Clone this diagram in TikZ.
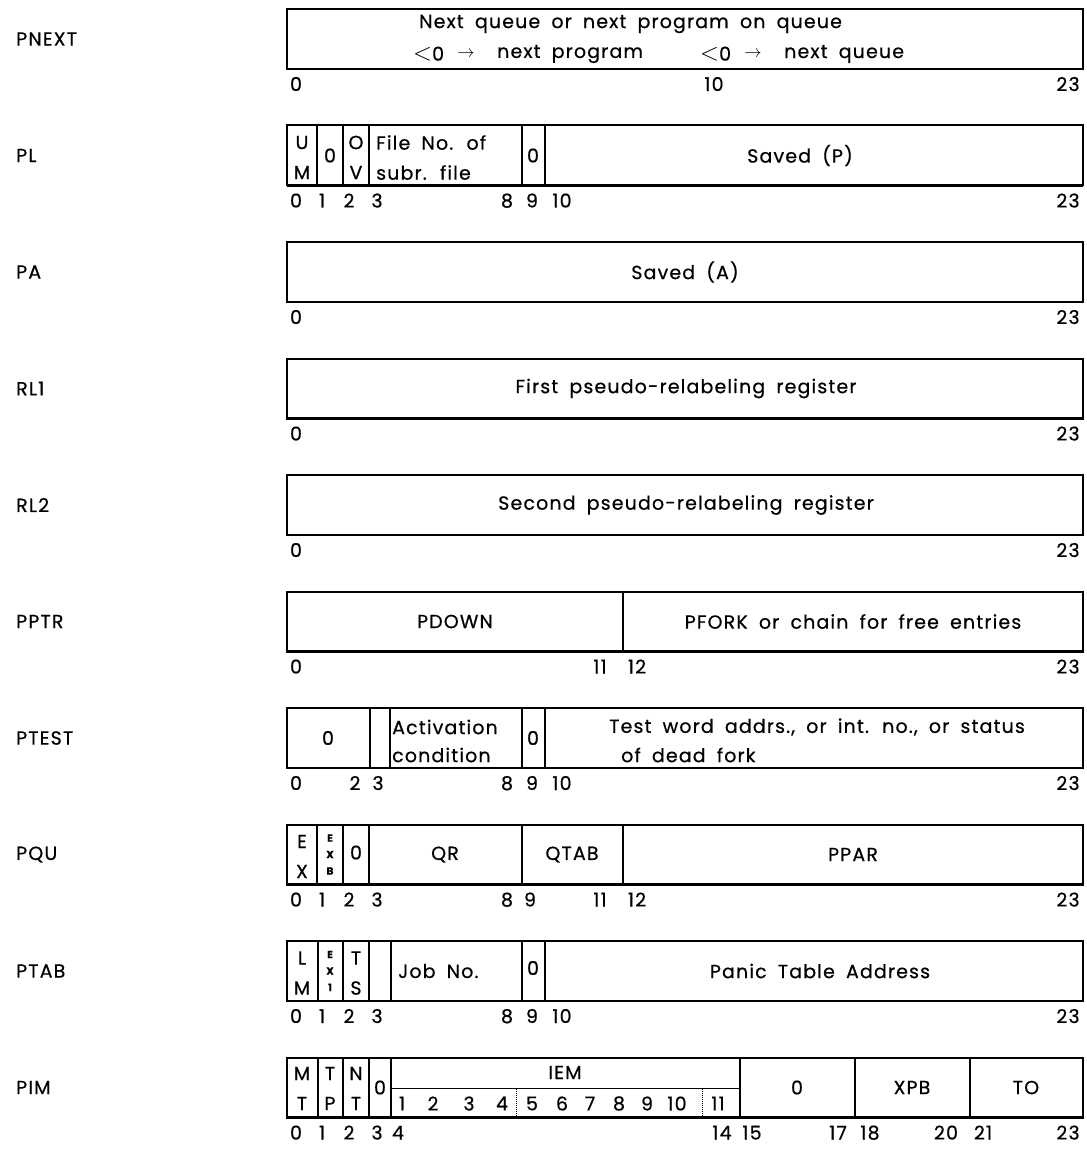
\documentclass[tikz,border=0pt]{standalone}
\usepackage{fontspec}
\setmainfont{Poppins}[LetterSpace=6,WordSpace=1.8,FakeBold=0.5]
\newcommand\fs{\fontsize{19}{22}\selectfont}
\newcommand\minifs{\fontsize{10.5}{16.5}\selectfont\bfseries}
\newcommand\lessz{{\fontsize{24}{24}\selectfont$<$}0}
\begin{document}
\begin{tikzpicture}[x=1pt,y=-1pt,
  outer/.style={line width=2pt},
  base/.style={line width=2.8pt},
  div/.style={line width=1.2pt},
  txt/.style={font=\fs,inner sep=0pt},
  lbl/.style={font=\fs,inner sep=0pt,anchor=west},
  idx/.style={font=\fs,inner sep=0pt,anchor=base},
  mini/.style={font=\minifs,inner sep=0pt,align=center},
  dots/.style={line width=1pt,densely dotted}]
\useasboundingbox[fill=white] (0,0) rectangle (1086,1150);
% local row frame: box from y=-60 (top) to y=0 (bottom)
\newcommand\regbox{\draw[outer] (287,-60) rectangle (1083,0); \draw[base] (287,0) -- (1083,0);}

% ---------- PNEXT ----------
\begin{scope}[shift={(0,69)}]
\regbox
\node[lbl] (lPNEXT) at (16,-30) {PNEXT};
\node[txt,anchor=west] (pn1) at (419,-45) {Next queue or next program on queue};
\node[txt,anchor=west] (pn2a) at (413,-15) {\lessz};
\node[txt] (pn2b) at (466,-15) {$\rightarrow$};
\node[txt,anchor=west] (pn2c) at (497,-15) {next program};
\node[txt,anchor=west] (pn2d) at (700,-15) {\lessz};
\node[txt] (pn2e) at (753,-15) {$\rightarrow$};
\node[txt,anchor=west] (pn2f) at (784,-15) {next queue};
\node[idx] (pni0) at (296,22) {0};
\node[idx] (pni10) at (714,22) {10};
\node[idx] (pni23) at (1068,22) {23};
\end{scope}

% ---------- PL ----------
\begin{scope}[shift={(0,185.5)}]
\regbox
\foreach \x in {317,343,369,522,545} \draw[div] (\x,-60) -- (\x,0);
\node[lbl] (lPL) at (16,-30) {PL};
\node[txt] (plu) at (302,-43) {U};
\node[txt] (plm) at (302,-13) {M};
\node[txt] (pl0) at (330,-30) {0};
\node[txt] (plo) at (356,-43) {O};
\node[txt] (plv) at (356,-13) {V};
\node[txt,anchor=west] (plf1) at (376,-43) {File No. of};
\node[txt,anchor=west] (plf2) at (376,-13) {subr. file};
\node[txt] (pl0b) at (533,-30) {0};
\node[txt] (plp) at (800,-30) {Saved (P)};
\foreach \n/\x in {0/296,1/322,2/349,3/377,8/507,9/532,10/562,23/1068}
  \node[idx] (pli\n) at (\x,22) {\n};
\end{scope}

% ---------- PA ----------
\begin{scope}[shift={(0,302)}]
\regbox
\node[lbl] (lPA) at (16,-30) {PA};
\node[txt] (pa) at (685,-30) {Saved (A)};
\node[idx] (pai0) at (296,22) {0};
\node[idx] (pai23) at (1068,22) {23};
\end{scope}

% ---------- RL1 ----------
\begin{scope}[shift={(0,418.5)}]
\regbox
\node[lbl] (lRL1) at (16,-30) {RL1};
\node[txt] (rl1) at (686,-30) {First pseudo-relabeling register};
\node[idx] (rl1i0) at (296,22) {0};
\node[idx] (rl1i23) at (1068,22) {23};
\end{scope}

% ---------- RL2 ----------
\begin{scope}[shift={(0,535)}]
\regbox
\node[lbl] (lRL2) at (16,-30) {RL2};
\node[txt] (rl2) at (686,-30) {Second pseudo-relabeling register};
\node[idx] (rl2i0) at (296,22) {0};
\node[idx] (rl2i23) at (1068,22) {23};
\end{scope}

% ---------- PPTR ----------
\begin{scope}[shift={(0,651.5)}]
\regbox
\draw[div] (623,-60) -- (623,0);
\node[lbl] (lPPTR) at (16,-30) {PPTR};
\node[txt] (pdown) at (455,-30) {PDOWN};
\node[txt] (pfork) at (853,-30) {PFORK or chain for free entries};
\foreach \n/\x in {0/296,11/600,12/637,23/1068}
  \node[idx] (ppi\n) at (\x,22) {\n};
\end{scope}

% ---------- PTEST ----------
\begin{scope}[shift={(0,768)}]
\regbox
\foreach \x in {370,390,522,545} \draw[div] (\x,-60) -- (\x,0);
\node[lbl] (lPTEST) at (16,-30) {PTEST};
\node[txt] (pt0) at (328,-30) {0};
\node[txt,anchor=west] (pta1) at (392,-41) {Activation};
\node[txt,anchor=west] (pta2) at (392,-13) {condition};
\node[txt] (pt0b) at (533,-30) {0};
\node[txt] (ptt1) at (817,-41) {Test word addrs., or int. no., or status};
\node[txt,anchor=west] (ptt2) at (621,-13) {of dead fork};
\foreach \n/\x in {0/296,2/355,3/378,8/507,9/532,10/562,23/1068}
  \node[idx] (pti\n) at (\x,22) {\n};
\end{scope}

% ---------- PQU ----------
\begin{scope}[shift={(0,884.5)}]
\regbox
\foreach \x in {317,343,369,522,623} \draw[div] (\x,-60) -- (\x,0);
\node[lbl] (lPQU) at (16,-30) {PQU};
\node[txt] (pqe) at (302,-43) {E};
\node[txt] (pqx) at (302,-13) {X};
\node[mini] (pqexb) at (330,-30) {E\\X\\B};
\node[txt] (pq0) at (356,-32) {0};
\node[txt] (pqqr) at (445,-30) {QR};
\node[txt] (pqqt) at (572,-30) {QTAB};
\node[txt] (pqpp) at (853,-30) {PPAR};
\foreach \n/\x in {0/296,1/322,2/349,3/377,8/507,9/530,11/600,12/637,23/1068}
  \node[idx] (pqi\n) at (\x,22) {\n};
\end{scope}

% ---------- PTAB ----------
\begin{scope}[shift={(0,1001)}]
\regbox
\foreach \x in {318,343,369,391,522,545} \draw[div] (\x,-60) -- (\x,0);
\node[lbl] (lPTAB) at (16,-30) {PTAB};
\node[txt] (pbl) at (302,-43) {L};
\node[txt] (pbm) at (302,-13) {M};
\node[mini] (pbex) at (330,-30) {E\\X\\1};
\node[txt] (pbt) at (356,-43) {T};
\node[txt] (pbs) at (356,-13) {S};
\node[txt,anchor=west] (pbjob) at (398,-30) {Job No.};
\node[txt] (pb0) at (533,-33) {0};
\node[txt] (pbpanic) at (820,-30) {Panic Table Address};
\foreach \n/\x in {0/296,1/322,2/349,3/377,8/507,9/532,10/562,23/1068}
  \node[idx] (pbi\n) at (\x,22) {\n};
\end{scope}

% ---------- PIM ----------
\begin{scope}[shift={(0,1117.5)}]
\regbox
\foreach \x in {318,343,369,391,740,855,970} \draw[div] (\x,-60) -- (\x,0);
\draw[div] (391,-29) -- (740,-29);
\draw[dots] (516,-29) -- (516,0);
\draw[dots] (702,-29) -- (702,0);
\node[lbl] (lPIM) at (16,-30) {PIM};
\node[txt] (pmm) at (302,-44) {M};
\node[txt] (pmt) at (302,-14) {T};
\node[txt] (pmt2) at (330,-44) {T};
\node[txt] (pmp) at (330,-14) {P};
\node[txt] (pmn) at (356,-44) {N};
\node[txt] (pmt3) at (356,-14) {T};
\node[txt] (pm0) at (380,-30) {0};
\node[txt] (pmiem) at (565,-45) {IEM};
\foreach \n/\x in {1/402,2/433,3/469,4/502,5/532,6/562,7/590,8/619,9/647,10/677,11/718}
  \node[txt] (pmd\n) at (\x,-14) {\n};
\node[txt] (pm0b) at (797,-30) {0};
\node[txt] (pmxpb) at (912,-30) {XPB};
\node[txt] (pmto) at (1026,-30) {TO};
\foreach \n/\x in {0/296,1/322,2/349,3/377,4/398,14/722,15/752,17/838,18/870,20/946,21/983,23/1068}
  \node[idx] (pmi\n) at (\x,22) {\n};
\end{scope}
\end{tikzpicture}
\end{document}
